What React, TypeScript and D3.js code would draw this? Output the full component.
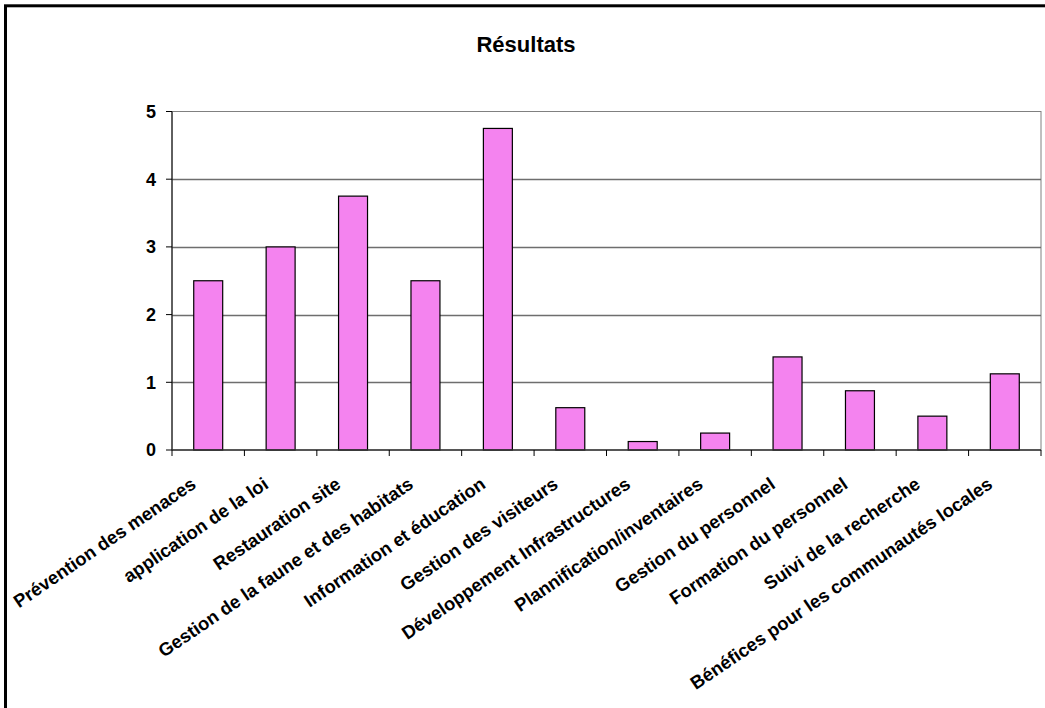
import React from "react";
import * as d3 from "d3";

const categories = [
  "Prévention des menaces",
  "application de la loi",
  "Restauration site",
  "Gestion de la faune et des habitats",
  "Information et éducation",
  "Gestion des visiteurs",
  "Développement Infrastructures",
  "Plannification/inventaires",
  "Gestion du personnel",
  "Formation du personnel",
  "Suivi de la recherche",
  "Bénéfices pour les communautés locales",
];
const values = [2.5, 3, 3.75, 2.5, 4.75, 0.625, 0.125, 0.25, 1.375, 0.875, 0.5, 1.125];
const yTicks = [0, 1, 2, 3, 4, 5];
const title = "Résultats";

const W = 1045;
const H = 708;
const plot = { left: 172, right: 1041, top: 111.5, bottom: 450 };
const font = "'Liberation Sans', Arial, sans-serif";

export default function App() {
  const x = d3.scaleBand<number>().domain(d3.range(categories.length)).range([plot.left, plot.right]).paddingInner(0).paddingOuter(0);
  const y = d3.scaleLinear().domain([0, 5]).range([plot.bottom, plot.top]);
  const bw = x.bandwidth() / 2.5;
  return (
    <svg width={W} height={H} style={{ position: "absolute", left: 0, top: 0, background: "#fff" }} fontFamily={font}>
      <rect x={0} y={0} width={W} height={H} fill="#fff" />
      <rect x={5.5} y={5.8} width={1200} height={900} fill="none" stroke="#000" strokeWidth={3} />
      <text x={526} y={52} textAnchor="middle" fontWeight="bold" fontSize={22}>{title}</text>
      <rect x={plot.left} y={plot.top} width={plot.right - plot.left} height={plot.bottom - plot.top} fill="none" stroke="#808080" strokeWidth={1} />
      {yTicks.filter(t => t > 0 && t < 5).map(t => (
        <line key={t} x1={plot.left} x2={plot.right} y1={Math.round(y(t)) + 0.5} y2={Math.round(y(t)) + 0.5} stroke="#6e6e6e" strokeWidth={1.3} />
      ))}
      {values.map((v, i) => {
        const cx = (x(i) as number) + x.bandwidth() / 2;
        return (
          <rect key={i} x={cx - bw / 2} y={y(v)} width={bw} height={y(0) - y(v)} fill="#F483EF" stroke="#000" strokeWidth={1.2} />
        );
      })}
      <line x1={plot.left} x2={plot.left} y1={plot.top} y2={plot.bottom} stroke="#000" strokeWidth={1} />
      <line x1={plot.left} x2={plot.right} y1={plot.bottom} y2={plot.bottom} stroke="#333" strokeWidth={1.3} />
      {yTicks.map(t => (
        <g key={t}>
          <line x1={plot.left - 6} x2={plot.left} y1={y(t)} y2={y(t)} stroke="#000" />
          <text x={156} y={y(t)} dy="0.36em" textAnchor="end" fontWeight="bold" fontSize={18}>{t}</text>
        </g>
      ))}
      {d3.range(categories.length + 1).map(i => {
        const tx = plot.left + i * x.step();
        return <line key={i} x1={tx} x2={tx} y1={plot.bottom} y2={plot.bottom + 6} stroke="#000" />;
      })}
      {categories.map((c, i) => {
        const cx = (x(i) as number) + x.bandwidth() / 2;
        return (
          <text key={i} transform={`translate(${cx - 11},${487}) rotate(-34.3)`} textAnchor="end" fontWeight="bold" fontSize={18.4}>{c}</text>
        );
      })}
    </svg>
  );
}
